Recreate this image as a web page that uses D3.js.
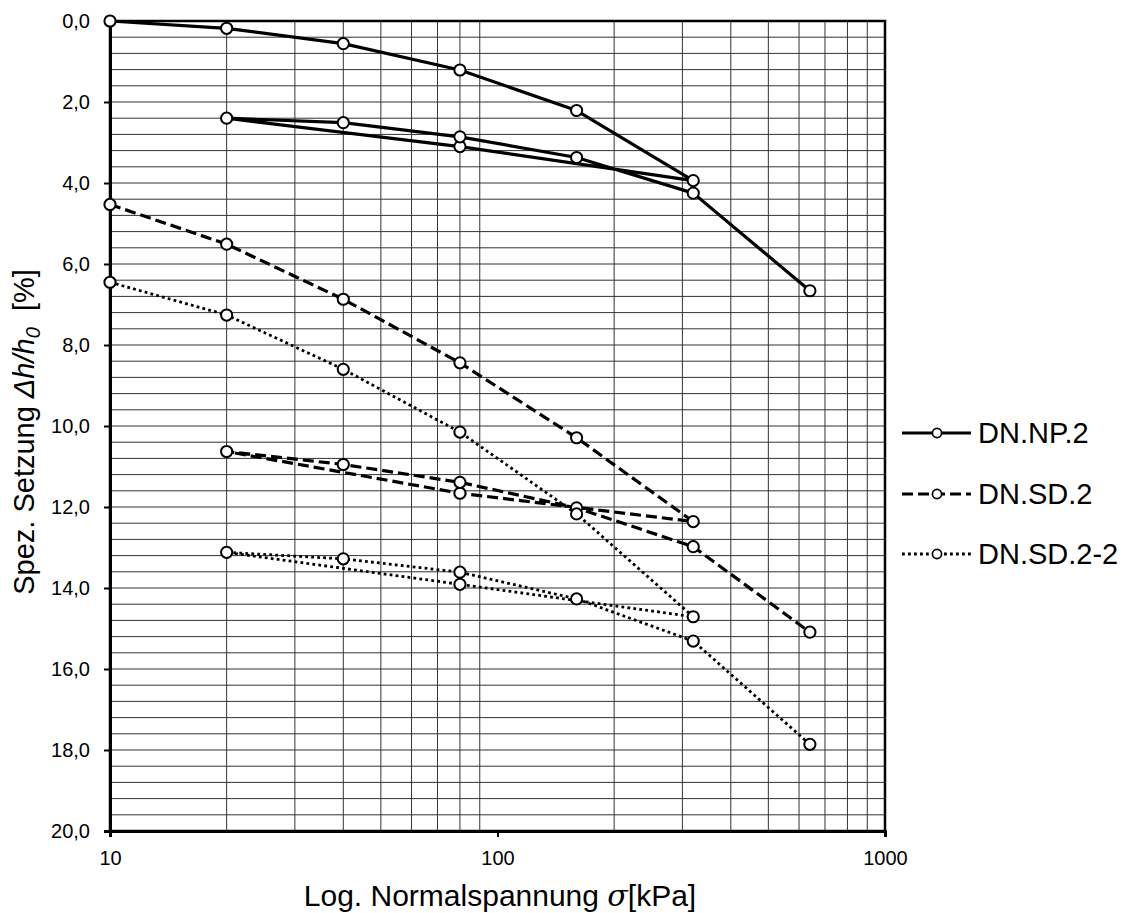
<!DOCTYPE html>
<html>
<head>
<meta charset="utf-8">
<script src="https://cdn.jsdelivr.net/npm/d3@7"></script>
<style>
  html, body { margin: 0; padding: 0; background: #fff; }
  svg { display: block; font-family: "Liberation Sans", Arial, sans-serif; }
</style>
</head>
<body>
<svg id="chart" width="1129" height="913"></svg>
<script>
// Load steps of the oedometer test (loading, unloading, reloading)
const stress = [10, 20, 40, 80, 160, 320, 80, 20, 40, 80, 160, 320, 640];

// Specific settlement Δh/h0 in % for each sample
const npValues   = [0.00, 0.18, 0.56, 1.21, 2.21, 3.94, 3.10, 2.40, 2.51, 2.86, 3.37, 4.25, 6.66];
const sdValues   = [4.53, 5.51, 6.87, 8.44, 10.29, 12.36, 11.66, 10.63, 10.95, 11.39, 12.02, 12.98, 15.09];
const sd22Values = [6.45, 7.26, 8.60, 10.15, 12.17, 14.71, 13.91, 13.12, 13.28, 13.61, 14.27, 15.31, 17.86];

const seriesNames = ["DN.NP.2", "DN.SD.2", "DN.SD.2-2"];
const xTicks = [10, 100, 1000];
const yTicks = [0, 2, 4, 6, 8, 10, 12, 14, 16, 18, 20];

const svg = d3.select("#chart");
const plotL = 110, plotR = 885, plotT = 21, plotB = 831;
const FONT = "'Liberation Sans', Arial, sans-serif";

const x = d3.scaleLog().domain([10, 1000]).range([plotL, plotR]);
const y = d3.scaleLinear().domain([0, 20]).range([plotT, plotB]);

// grid
const grid = svg.append("g").attr("stroke", "#333").attr("stroke-width", 1);
d3.range(0.4, 19.99, 0.4).forEach(v => {
  grid.append("line").attr("x1", plotL).attr("x2", plotR).attr("y1", y(v)).attr("y2", y(v));
});
const vGrid = [];
[10, 100].forEach(d => { for (let k = 2; k <= 9; k++) vGrid.push(d * k); });
vGrid.forEach(v => {
  grid.append("line").attr("y1", plotT).attr("y2", plotB).attr("x1", x(v)).attr("x2", x(v));
});

// frame
svg.append("rect").attr("x", plotL).attr("y", plotT).attr("width", plotR - plotL).attr("height", plotB - plotT)
  .attr("fill", "none").attr("stroke", "#000").attr("stroke-width", 2.5);

// axes
const yAxis = svg.append("g").attr("transform", `translate(${plotL},0)`)
  .call(d3.axisLeft(y).tickValues(yTicks).tickSize(6).tickPadding(14)
    .tickFormat(d => d3.format(".1f")(d).replace(".", ",")));
yAxis.select(".domain").attr("stroke", "#000").attr("stroke-width", 3);
yAxis.selectAll(".tick line").attr("stroke", "#000").attr("stroke-width", 2);
yAxis.selectAll(".tick text").attr("font-size", 20).attr("fill", "#000").attr("font-family", FONT);

const xAxis = svg.append("g").attr("transform", `translate(0,${plotB})`)
  .call(d3.axisBottom(x).tickValues(xTicks).tickSize(6).tickPadding(14).tickFormat(d3.format("d")));
xAxis.select(".domain").attr("stroke", "#000").attr("stroke-width", 3);
xAxis.selectAll(".tick line").attr("stroke", "#000").attr("stroke-width", 2);
xAxis.selectAll(".tick text").attr("font-size", 20).attr("fill", "#000").attr("font-family", FONT);

// axis titles
const xt = svg.append("text").attr("x", 500).attr("y", 906).attr("text-anchor", "middle")
  .attr("font-size", 30).attr("fill", "#000");
xt.append("tspan").text("Log. Normalspannung ");
xt.append("tspan").attr("font-style", "italic").attr("font-family", "'DejaVu Serif', serif").text("σ");
xt.append("tspan").text("[kPa]");

const yt = svg.append("text").attr("transform", "translate(34,432) rotate(-90)")
  .attr("text-anchor", "middle").attr("font-size", 29).attr("fill", "#000");
yt.append("tspan").text("Spez. Setzung ");
yt.append("tspan").attr("font-style", "italic").text("Δh/h");
yt.append("tspan").attr("font-style", "italic").attr("font-size", 20).attr("dy", 6).text("0");
yt.append("tspan").attr("dy", -6).text("\u00a0 [%]");

// series
const styles = [
  { dash: null, width: 3.2 },
  { dash: "11,5", width: 3.2 },
  { dash: "2.8,3.2", width: 2.8 }
];
const seriesData = [npValues, sdValues, sd22Values].map((vals, i) => ({
  name: seriesNames[i],
  style: styles[i],
  points: stress.map((s, j) => ({ s, v: vals[j] }))
}));

const line = d3.line().x(d => x(d.s)).y(d => y(d.v));

seriesData.forEach(sr => {
  svg.append("path").datum(sr.points).attr("d", line)
    .attr("fill", "none").attr("stroke", "#000").attr("stroke-width", sr.style.width)
    .attr("stroke-linejoin", "round")
    .attr("stroke-dasharray", sr.style.dash);
});
seriesData.forEach(sr => {
  svg.append("g").selectAll("circle").data(sr.points).join("circle")
    .attr("cx", d => x(d.s)).attr("cy", d => y(d.v)).attr("r", 5.6)
    .attr("fill", "#fff").attr("stroke", "#000").attr("stroke-width", 2);
});

// legend
const legend = svg.append("g");
const legY = [433, 494, 554];
seriesData.forEach((sr, i) => {
  const g = legend.append("g").attr("transform", `translate(0,${legY[i]})`);
  g.append("line").attr("x1", 902).attr("x2", 971).attr("y1", 0).attr("y2", 0)
    .attr("stroke", "#000").attr("stroke-width", sr.style.width)
    .attr("stroke-dasharray", sr.style.dash);
  g.append("circle").attr("cx", 937).attr("cy", 0).attr("r", 4.6)
    .attr("fill", "#fff").attr("stroke", "#000").attr("stroke-width", 1.7);
  g.append("text").attr("x", 978).attr("y", 10).attr("font-size", 29).attr("fill", "#000").text(sr.name);
});
</script>
</body>
</html>
